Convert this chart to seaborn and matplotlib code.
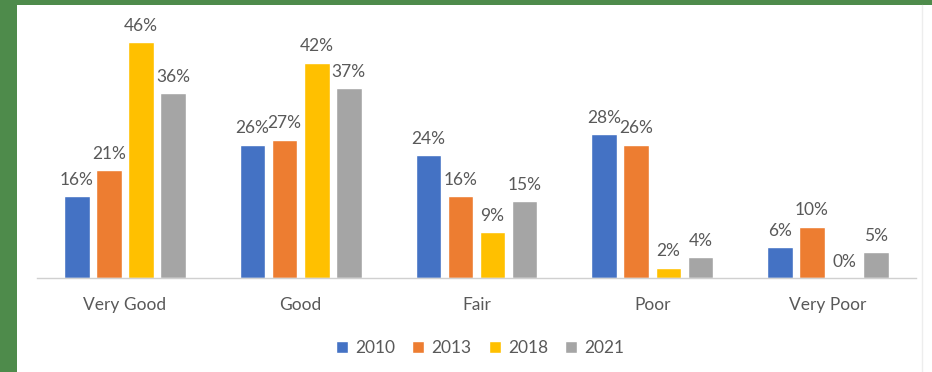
import matplotlib
matplotlib.use("Agg")
import matplotlib.pyplot as plt
from matplotlib.patches import Rectangle
from matplotlib.lines import Line2D
import seaborn as sns
import pandas as pd

categories = ["Very Good", "Good", "Fair", "Poor", "Very Poor"]
years = ["2010", "2013", "2018", "2021"]
values_2010 = [16, 26, 24, 28, 6]
values_2013 = [21, 27, 16, 26, 10]
values_2018 = [46, 42, 9, 2, 0]
values_2021 = [36, 37, 15, 4, 5]
colors = ["#4472C4", "#ED7D31", "#FFC000", "#A5A5A5"]

series = [values_2010, values_2013, values_2018, values_2021]
df = pd.DataFrame(
    [(c, y, v) for y, vals in zip(years, series) for c, v in zip(categories, vals)],
    columns=["Rating", "Year", "Share"],
)

sns.set_theme(style="white")
plt.rcParams["font.family"] = ["Lato", "DejaVu Sans"]
text_color = "#595959"
fs = 12.5

fig = plt.figure(figsize=(9.32, 3.72), dpi=100)
fig.patch.set_facecolor("white")

# green frame on the left and top edges
fig.patches.append(Rectangle((0, 0), 17 / 932, 1, transform=fig.transFigure,
                             facecolor="#4E8B4B", edgecolor="none", zorder=0))
fig.patches.append(Rectangle((0, 1 - 5 / 372), 1, 5 / 372, transform=fig.transFigure,
                             facecolor="#4E8B4B", edgecolor="none", zorder=0))
# faint panel edge on the right
fig.lines.append(Line2D([922 / 932, 922 / 932], [0, 1 - 5 / 372], transform=fig.transFigure,
                        color="#EDEDED", linewidth=1))

ax = fig.add_axes([37 / 932, (372 - 278) / 372, (916 - 37) / 932, (278 - 18) / 372])
ax.set_facecolor("white")

sns.barplot(data=df, x="Rating", y="Share", hue="Year", order=categories,
            hue_order=years, palette=colors, width=0.73, gap=0.2,
            saturation=1, ax=ax, legend=True)

for cont in ax.containers:
    ax.bar_label(cont, labels=[f"{v:g}%" for v in cont.datavalues],
                 padding=6, fontsize=fs, color=text_color)

ax.set_xlim(-0.5, 4.5)
ax.set_ylim(0, 50.7)
ax.set_xlabel("")
ax.set_ylabel("")
ax.set_yticks([])
ax.tick_params(axis="x", length=0, pad=14, labelsize=fs, labelcolor=text_color)
for side in ["left", "right", "top"]:
    ax.spines[side].set_visible(False)
ax.spines["bottom"].set_color("#D0D0D0")
ax.spines["bottom"].set_linewidth(1)

handles, labels = ax.get_legend_handles_labels()
ax.legend_.remove()
fig.legend(handles, labels, loc="center", bbox_to_anchor=(480 / 932, 1 - 348 / 372),
           ncol=4, frameon=False, fontsize=fs, labelcolor=text_color,
           handlelength=0.7, handleheight=0.7, handletextpad=0.4, columnspacing=1.0)

fig.savefig("out.png", dpi=100)
